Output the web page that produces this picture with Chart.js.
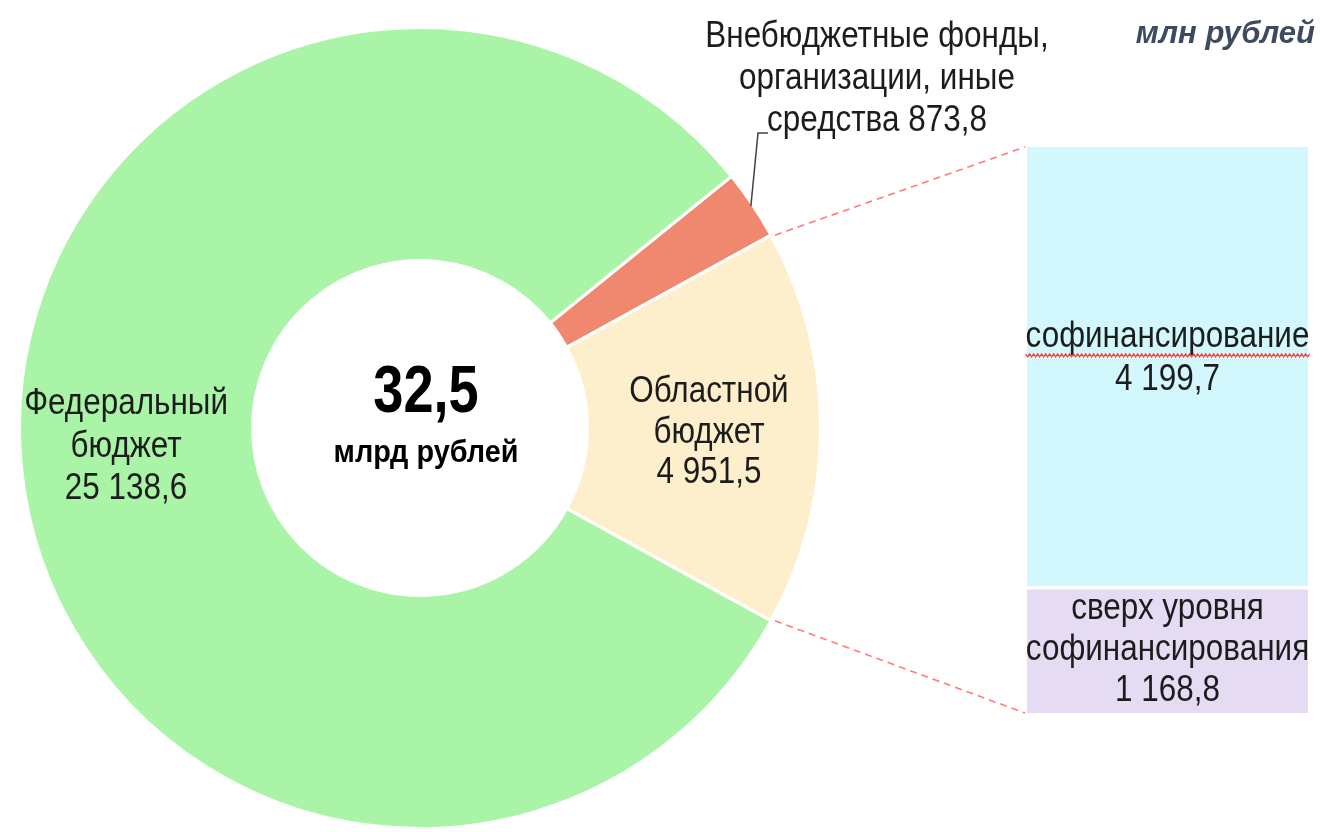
<!DOCTYPE html>
<html><head><meta charset="utf-8">
<script src="https://cdn.jsdelivr.net/npm/chart.js@4.4.1/dist/chart.umd.min.js"></script>
<style>
html,body{margin:0;padding:0;background:#fff;width:1322px;height:832px;overflow:hidden}
canvas{position:absolute;display:block}
</style></head><body>
<canvas id="pie" width="1322" height="832" style="left:0;top:0"></canvas>
<canvas id="bar" width="281" height="566" style="left:1027px;top:147px"></canvas>
<canvas id="ov" width="1322" height="832" style="left:0;top:0;pointer-events:none"></canvas>
<script>
const pieCategories = ['Внебюджетные фонды, организации, иные средства', 'Областной бюджет', 'Федеральный бюджет'];
const pieValues = [873.8, 4951.5, 25138.6];
const pieColors = ['#f0876f', '#feefcc', '#a9f4a7'];
const barCategories = ['сверх уровня софинансирования', 'софинансирование'];
const barValues = [1168.8, 4199.7];
const barColors = ['#e5dcf3', '#d2f8fd'];
const totalLabel = '32,5';
const totalUnit = 'млрд рублей';
const unitLabel = 'млн рублей';

function fmt(v) {
  const p = v.toFixed(1).split('.');
  return p[0].replace(/\B(?=(\d{3})+(?!\d))/g, ' ') + ',' + p[1];
}
const pieTotal = pieValues.reduce((a, b) => a + b, 0);
const spans = pieValues.map(v => v / pieTotal * 360);
const rotation = 90 - spans[1] / 2 - spans[0];

const pie = new Chart(document.getElementById('pie'), {
  type: 'doughnut',
  data: { labels: pieCategories, datasets: [{ data: pieValues, backgroundColor: pieColors, borderColor: '#ffffff', borderWidth: 3 }] },
  options: {
    responsive: false, animation: false, rotation: rotation, cutout: '41.8%',
    layout: { padding: { left: 18, right: 500, top: 26, bottom: 2 } },
    plugins: { legend: { display: false }, tooltip: { enabled: false } }
  }
});

const barTotal = barValues.reduce((a, b) => a + b, 0);
const bar = new Chart(document.getElementById('bar'), {
  type: 'bar',
  data: {
    labels: [''],
    datasets: [
      { label: barCategories[0], data: [barValues[0]], backgroundColor: barColors[0], borderWidth: 0 },
      { label: barCategories[1], data: [barValues[1]], backgroundColor: barColors[1], borderColor: '#ffffff', borderWidth: { top: 0, left: 0, right: 0, bottom: 4 }, borderSkipped: false }
    ]
  },
  options: {
    responsive: false, animation: false,
    barPercentage: 1, categoryPercentage: 1,
    layout: { padding: 0 },
    scales: {
      x: { display: false, stacked: true },
      y: { display: false, stacked: true, min: 0, max: barTotal }
    },
    plugins: { legend: { display: false }, tooltip: { enabled: false } }
  }
});

// overlay annotations
const ctx = document.getElementById('ov').getContext('2d');
const FW = '"Liberation Sans",Arial,sans-serif';
const arcs = pie.getDatasetMeta(0).data;
const bars0 = bar.getDatasetMeta(0).data[0];
const bars1 = bar.getDatasetMeta(1).data[0];
const bx = 1027, by = 147;

function ptAt(a, ang, r) { return { x: a.x + Math.cos(ang) * r, y: a.y + Math.sin(ang) * r }; }

// dashed connectors
const yel = arcs[1];
const pTop = ptAt(yel, yel.startAngle, yel.outerRadius);
const pBot = ptAt(yel, yel.endAngle, yel.outerRadius);
const barLeft = bx + bars1.x - bars1.width / 2;
const barRight = bx + bars1.x + bars1.width / 2;
const barTopY = by + bars1.y;
const barBotY = by + bars0.base;
ctx.save();
ctx.strokeStyle = '#ff7c7c';
ctx.lineWidth = 1.6;
ctx.setLineDash([7, 5]);
ctx.beginPath(); ctx.moveTo(pTop.x + 4, pTop.y); ctx.lineTo(barLeft - 2, barTopY); ctx.stroke();
ctx.beginPath(); ctx.moveTo(pBot.x + 4, pBot.y); ctx.lineTo(barLeft - 2, barBotY); ctx.stroke();
ctx.restore();

// leader for small slice
const org = arcs[0];
const midA = (org.startAngle + org.endAngle) / 2;
const pL = ptAt(org, midA, org.outerRadius - 2);
ctx.save();
ctx.strokeStyle = '#404040'; ctx.lineWidth = 1.5;
ctx.beginPath(); ctx.moveTo(pL.x, pL.y); ctx.lineTo(758, 133); ctx.lineTo(768, 133); ctx.stroke();
ctx.restore();

function txt(t, x, y, font, color, sx, align) {
  ctx.save();
  ctx.font = font; ctx.fillStyle = color; ctx.textAlign = align || 'center'; ctx.textBaseline = 'alphabetic';
  ctx.translate(x, y); ctx.scale(sx, 1);
  ctx.fillText(t, 0, 0);
  ctx.restore();
}
function lines(arr, x, y0, step, font, color, sx) {
  arr.forEach((t, i) => txt(t, x, y0 + i * step, font, color, sx));
}
const TC = '#1c1c1c';
const LF = '37px ' + FW;
const SX = 0.85;
const cx = yel.x, cy = yel.y;
const midR = (yel.innerRadius + yel.outerRadius) / 2;

// Federal label
lines(['Федеральный', 'бюджет', fmt(pieValues[2])], cx - midR - 10, 414, 42.5, LF, TC, SX);
// Regional label
lines(['Областной', 'бюджет', fmt(pieValues[1])], cx + midR + 5, 402, 40.5, LF, TC, SX);
// Off-budget label
lines(['Внебюджетные фонды,', 'организации, иные', 'средства ' + fmt(pieValues[0])], 877, 47, 42, LF, TC, SX);

// center
txt(totalLabel, cx + 6, 412, 'bold 66px ' + FW, '#000', 0.82);
txt(totalUnit, cx + 6, 462, 'bold 31px ' + FW, '#000', 0.93);

// unit top right
txt(unitLabel, 1315, 43, 'italic bold 31px ' + FW, '#3d4a60', 1, 'right');

// bar labels
const bcx = (barLeft + barRight) / 2;
const topMid = by + (bars1.y + bars1.base) / 2;
const botMid = by + (bars0.y + bars0.base) / 2;
lines(['софинансирование', fmt(barValues[1])], bcx, topMid - 21, 43, LF, TC, SX);
lines(['сверх уровня', 'софинансирования', fmt(barValues[0])], bcx, botMid - 32, 41, LF, TC, SX);

// spell-check squiggle under word
ctx.font = LF;
const w = ctx.measureText('софинансирование').width * SX;
ctx.save();
ctx.strokeStyle = '#ff3a3a'; ctx.lineWidth = 1.2;
ctx.beginPath();
let sx0 = bcx - w / 2, sy = topMid - 21 + 8;
for (let i = 0; sx0 + i * 2 <= bcx + w / 2 + 2; i++) {
  const yy = sy + (i % 2 ? 1.5 : -1.5);
  if (i === 0) ctx.moveTo(sx0, yy); else ctx.lineTo(sx0 + i * 2, yy);
}
ctx.stroke();
ctx.restore();
</script>
</body></html>
